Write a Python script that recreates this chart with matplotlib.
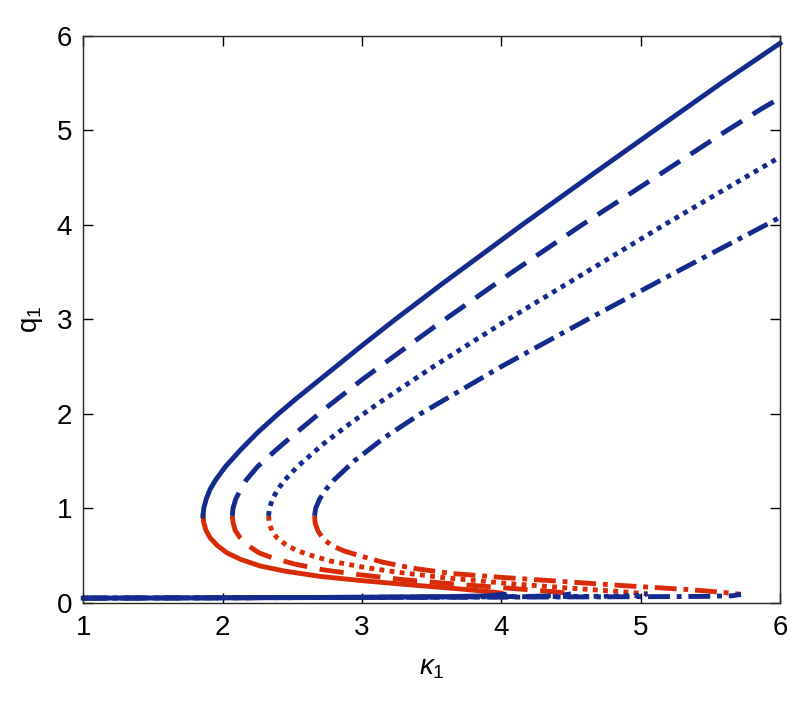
import matplotlib
matplotlib.use("Agg")
import matplotlib.pyplot as plt

plt.rcParams["font.family"] = ["Liberation Sans", "DejaVu Sans"]
plt.rcParams["mathtext.fontset"] = "custom"
plt.rcParams["mathtext.rm"] = "Liberation Sans"
plt.rcParams["mathtext.it"] = "Liberation Sans:italic"

BLUE = "#142a8c"
RED = "#d92b06"

# upper (stable) branches: kappa_1 and q_1
up_solid_k = [1.86, 1.865, 1.883, 1.91, 1.95, 2.02, 2.13, 2.25, 2.40, 2.52,
              2.73, 2.99, 3.24, 3.58, 4.15, 4.67, 5.10, 5.58, 6.0]
up_solid_q = [0.92, 1.0, 1.1, 1.2, 1.3, 1.44, 1.62, 1.8, 2.0, 2.15,
              2.4, 2.71, 3.0, 3.38, 4.0, 4.55, 5.0, 5.5, 5.92]

up_dash_k = [2.07, 2.075, 2.095, 2.13, 2.17, 2.25, 2.37, 2.48, 2.74, 3.0,
             3.24, 3.52, 3.79, 4.07, 4.32, 4.58, 5.04, 5.32, 5.59, 5.87, 6.0]
up_dash_q = [0.92, 1.0, 1.1, 1.2, 1.3, 1.44, 1.6, 1.74, 2.06, 2.36,
             2.62, 2.92, 3.2, 3.49, 3.74, 4.0, 4.44, 4.71, 4.97, 5.23, 5.34]

up_dot_k = [2.33, 2.336, 2.359, 2.396, 2.447, 2.536, 2.73, 2.917, 3.117,
            3.513, 4.05, 4.61, 5.17, 5.98, 6.0]
up_dot_q = [0.92, 1.0, 1.1, 1.2, 1.3, 1.44, 1.69, 1.9, 2.11,
            2.5, 3.0, 3.5, 4.0, 4.7, 4.72]

up_dd_k = [2.66, 2.668, 2.697, 2.742, 2.80, 2.944, 3.163, 3.42, 4.0, 4.62,
           5.255, 5.90, 6.0]
up_dd_q = [0.92, 1.0, 1.1, 1.2, 1.3, 1.5, 1.75, 2.0, 2.5, 3.0,
           3.5, 4.0, 4.08]

# middle (unstable) branches
mid_solid_k = [1.86, 1.865, 1.88, 1.91, 1.96, 2.03, 2.13, 2.27, 2.45, 2.70,
               3.0, 3.35, 3.70, 3.90, 4.0, 4.02]
mid_solid_q = [0.92, 0.85, 0.77, 0.69, 0.61, 0.53, 0.46, 0.39, 0.335, 0.28,
               0.235, 0.19, 0.148, 0.12, 0.104, 0.09]

mid_dash_k = [2.07, 2.075, 2.09, 2.125, 2.18, 2.26, 2.37, 2.52, 2.72, 2.97,
              3.30, 3.70, 4.10, 4.40, 4.50]
mid_dash_q = [0.92, 0.85, 0.77, 0.69, 0.61, 0.53, 0.47, 0.41, 0.35, 0.30,
              0.245, 0.195, 0.15, 0.115, 0.095]

mid_dot_k = [2.33, 2.335, 2.355, 2.39, 2.45, 2.53, 2.64, 2.78, 3.0, 3.25,
             3.60, 4.05, 4.50, 4.85, 5.05]
mid_dot_q = [0.92, 0.84, 0.76, 0.69, 0.62, 0.555, 0.50, 0.44, 0.38, 0.325,
             0.265, 0.205, 0.155, 0.12, 0.095]

mid_dd_k = [2.66, 2.665, 2.685, 2.72, 2.78, 2.87, 2.98, 3.15, 3.37, 3.65,
            4.0, 4.45, 4.90, 5.35, 5.60, 5.72]
mid_dd_q = [0.92, 0.84, 0.76, 0.68, 0.61, 0.55, 0.50, 0.43, 0.365, 0.31,
            0.27, 0.225, 0.18, 0.14, 0.11, 0.09]

# lower (stable) branches
low_solid_k = [1.0, 2.0, 3.0, 3.6, 3.9, 4.02]
low_solid_q = [0.05, 0.053, 0.06, 0.066, 0.074, 0.09]

low_dash_k = [1.0, 2.5, 3.6, 4.2, 4.42, 4.50]
low_dash_q = [0.05, 0.055, 0.062, 0.068, 0.077, 0.095]

low_dot_k = [1.0, 3.0, 4.2, 4.8, 4.98, 5.05]
low_dot_q = [0.05, 0.058, 0.065, 0.07, 0.078, 0.095]

low_dd_k = [1.0, 3.0, 4.6, 5.45, 5.66, 5.72]
low_dd_q = [0.05, 0.057, 0.063, 0.068, 0.075, 0.09]

styles = {
    "solid": "-",
    "dash": (0, (5.0, 2.6)),
    "dot": (0, (1.0, 1.1)),
    "dd": (0, (4.5, 1.4, 1.0, 1.4)),
}

curves = [
    ("solid", up_solid_k, up_solid_q, mid_solid_k, mid_solid_q, low_solid_k, low_solid_q),
    ("dash", up_dash_k, up_dash_q, mid_dash_k, mid_dash_q, low_dash_k, low_dash_q),
    ("dot", up_dot_k, up_dot_q, mid_dot_k, mid_dot_q, low_dot_k, low_dot_q),
    ("dd", up_dd_k, up_dd_q, mid_dd_k, mid_dd_q, low_dd_k, low_dd_q),
]

fig = plt.figure(figsize=(8, 7.01), dpi=100)
ax = fig.add_axes([0.104, 0.14, 0.871, 0.809])

lw = 3.5
for name, uk, uq, mk, mq, lk, lq in curves:
    ls = styles[name]
    ax.plot(mk, mq, color=RED, lw=lw, ls=ls, dash_capstyle="butt",
            solid_joinstyle="round", clip_on=False)
    ax.plot(lk, lq, color=BLUE, lw=lw, ls=ls, dash_capstyle="butt",
            solid_joinstyle="round", clip_on=False)
    ax.plot(uk, uq, color=BLUE, lw=lw, ls=ls, dash_capstyle="butt",
            solid_joinstyle="round", clip_on=False)

ax.set_xlim(1, 6)
ax.set_ylim(0, 6)
ax.set_xticks([1, 2, 3, 4, 5, 6])
ax.set_yticks([0, 1, 2, 3, 4, 5, 6])
ax.tick_params(axis="both", direction="in", top=True, right=True, length=7,
               width=1, labelsize=20)
ax.tick_params(axis="x", pad=9)
ax.tick_params(axis="y", pad=8)
for s in ax.spines.values():
    s.set_linewidth(1.0)
    s.set_color("#262626")

ax.set_xlabel(r"$\kappa_1$", fontsize=20, labelpad=10)
ax.set_ylabel(r"q$_1$", fontsize=20, labelpad=8)

fig.savefig("out.png", dpi=100)
plt.close(fig)
